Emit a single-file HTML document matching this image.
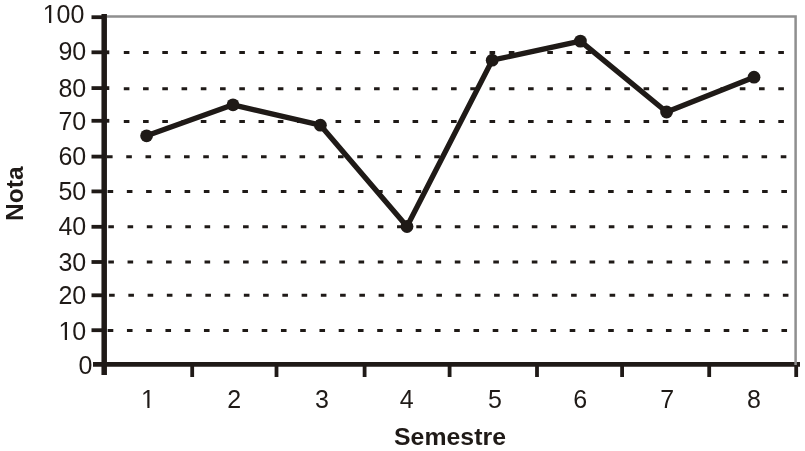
<!DOCTYPE html>
<html lang="pt"><head><meta charset="utf-8"><title>Nota por Semestre</title>
<style>
html,body{margin:0;padding:0;background:#fff;}
body{width:805px;height:451px;overflow:hidden;}
svg{display:block;}
text{font-family:"Liberation Sans",sans-serif;fill:#1f1a17;}
.b{font-weight:bold;}
</style></head><body>
<svg width="805" height="451" viewBox="0 0 805 451">
<rect width="805" height="451" fill="#fff"/>
<line x1="107.7" y1="330.4" x2="790" y2="330.4" stroke="#1f1a17" stroke-width="3" stroke-dasharray="5.6 13.65"/>
<line x1="109.1" y1="295.3" x2="790" y2="295.3" stroke="#1f1a17" stroke-width="3" stroke-dasharray="5.6 13.65"/>
<line x1="108.3" y1="262.0" x2="790" y2="262.0" stroke="#1f1a17" stroke-width="3" stroke-dasharray="5.6 13.65"/>
<line x1="108.3" y1="226.8" x2="790" y2="226.8" stroke="#1f1a17" stroke-width="3" stroke-dasharray="5.6 13.65"/>
<line x1="107.6" y1="191.6" x2="790" y2="191.6" stroke="#1f1a17" stroke-width="3" stroke-dasharray="5.6 13.65"/>
<line x1="107.0" y1="156.8" x2="790" y2="156.8" stroke="#1f1a17" stroke-width="3" stroke-dasharray="5.6 13.65"/>
<line x1="123.8" y1="121.4" x2="790" y2="121.4" stroke="#1f1a17" stroke-width="3" stroke-dasharray="5.6 13.65"/>
<line x1="123.8" y1="88.7" x2="790" y2="88.7" stroke="#1f1a17" stroke-width="3" stroke-dasharray="5.6 13.65"/>
<line x1="123.8" y1="52.4" x2="790" y2="52.4" stroke="#1f1a17" stroke-width="3" stroke-dasharray="5.6 13.65"/>
<line x1="104.2" y1="14" x2="104.2" y2="375" stroke="#1f1a17" stroke-width="5.5"/>
<line x1="93" y1="364.4" x2="800" y2="364.4" stroke="#1f1a17" stroke-width="4.6"/>
<line x1="91.5" y1="330.2" x2="104.3" y2="330.2" stroke="#1f1a17" stroke-width="3.8"/>
<line x1="91.5" y1="295.3" x2="104.3" y2="295.3" stroke="#1f1a17" stroke-width="3.8"/>
<line x1="91.5" y1="262.0" x2="104.3" y2="262.0" stroke="#1f1a17" stroke-width="3.8"/>
<line x1="91.5" y1="226.8" x2="104.3" y2="226.8" stroke="#1f1a17" stroke-width="3.8"/>
<line x1="91.5" y1="191.4" x2="104.3" y2="191.4" stroke="#1f1a17" stroke-width="3.8"/>
<line x1="91.5" y1="156.6" x2="104.3" y2="156.6" stroke="#1f1a17" stroke-width="3.8"/>
<line x1="91.5" y1="120.8" x2="109.3" y2="120.8" stroke="#1f1a17" stroke-width="3.8"/>
<line x1="91.5" y1="88.1" x2="109.3" y2="88.1" stroke="#1f1a17" stroke-width="3.8"/>
<line x1="91.5" y1="52.3" x2="109.3" y2="52.3" stroke="#1f1a17" stroke-width="3.8"/>
<line x1="91.5" y1="17.2" x2="104.3" y2="17.2" stroke="#1f1a17" stroke-width="3.8"/>
<line x1="192.2" y1="364.4" x2="192.2" y2="377" stroke="#1f1a17" stroke-width="3.8"/>
<line x1="276.5" y1="364.4" x2="276.5" y2="377" stroke="#1f1a17" stroke-width="3.8"/>
<line x1="364.6" y1="364.4" x2="364.6" y2="377" stroke="#1f1a17" stroke-width="3.8"/>
<line x1="449.6" y1="364.4" x2="449.6" y2="377" stroke="#1f1a17" stroke-width="3.8"/>
<line x1="537" y1="364.4" x2="537" y2="377" stroke="#1f1a17" stroke-width="3.8"/>
<line x1="622.1" y1="364.4" x2="622.1" y2="377" stroke="#1f1a17" stroke-width="3.8"/>
<line x1="709.2" y1="364.4" x2="709.2" y2="377" stroke="#1f1a17" stroke-width="3.8"/>
<line x1="796.2" y1="364.4" x2="796.2" y2="377" stroke="#1f1a17" stroke-width="3.8"/>
<path d="M107 16.6 H795.6 V365" fill="none" stroke="#8f8f8f" stroke-width="2.5"/>
<path d="M146.6 135.8 L233 104.8 L320.4 125.2 L407 226.5 L492.2 60.2 L580.4 41.1 L666.6 112 L754 77.2" fill="none" stroke="#1f1a17" stroke-width="5.3" stroke-linejoin="round"/>
<circle cx="146.6" cy="135.8" r="6.4" fill="#1f1a17"/>
<circle cx="233" cy="104.8" r="6.4" fill="#1f1a17"/>
<circle cx="320.4" cy="125.2" r="6.4" fill="#1f1a17"/>
<circle cx="407" cy="226.5" r="6.4" fill="#1f1a17"/>
<circle cx="492.2" cy="60.2" r="6.4" fill="#1f1a17"/>
<circle cx="580.4" cy="41.1" r="6.4" fill="#1f1a17"/>
<circle cx="666.6" cy="112" r="6.4" fill="#1f1a17"/>
<circle cx="754" cy="77.2" r="6.4" fill="#1f1a17"/>
<text x="92.3" y="373.8" font-size="25" text-anchor="end">0</text>
<text x="86.2" y="339.8" font-size="25" text-anchor="end">10</text>
<text x="86.2" y="303.5" font-size="25" text-anchor="end">20</text>
<text x="86.2" y="270.6" font-size="25" text-anchor="end">30</text>
<text x="86.2" y="235.4" font-size="25" text-anchor="end">40</text>
<text x="86.2" y="200.0" font-size="25" text-anchor="end">50</text>
<text x="86.2" y="164.9" font-size="25" text-anchor="end">60</text>
<text x="86.2" y="129.7" font-size="25" text-anchor="end">70</text>
<text x="86.2" y="96.8" font-size="25" text-anchor="end">80</text>
<text x="86.2" y="60.1" font-size="25" text-anchor="end">90</text>
<text x="84.4" y="22.7" font-size="25" text-anchor="end">100</text>
<text x="148.0" y="407.7" font-size="25" text-anchor="middle">1</text>
<text x="234.3" y="407.7" font-size="25" text-anchor="middle">2</text>
<text x="321.9" y="407.7" font-size="25" text-anchor="middle">3</text>
<text x="406.7" y="407.7" font-size="25" text-anchor="middle">4</text>
<text x="495.0" y="407.7" font-size="25" text-anchor="middle">5</text>
<text x="580.2" y="407.7" font-size="25" text-anchor="middle">6</text>
<text x="667.2" y="407.7" font-size="25" text-anchor="middle">7</text>
<text x="754.0" y="407.7" font-size="25" text-anchor="middle">8</text>
<text class="b" x="450" y="445.3" font-size="24.8" letter-spacing="0.05" text-anchor="middle">Semestre</text>
<text class="b" transform="translate(22.5 193.7) rotate(-90)" font-size="24.5" text-anchor="middle">Nota</text>
<rect x="141.5" y="406" width="5.87" height="2.30" fill="#fff"/>
<rect x="149.5" y="406" width="4.70" height="2.30" fill="#fff"/>
<rect x="43.5" y="21" width="5.53" height="2.30" fill="#fff"/>
<rect x="51.25" y="21" width="4.75" height="2.30" fill="#fff"/>
<rect x="60.0" y="338" width="4.78" height="2.30" fill="#fff"/>
<rect x="67.0" y="338" width="4.80" height="2.30" fill="#fff"/>
</svg></body></html>
